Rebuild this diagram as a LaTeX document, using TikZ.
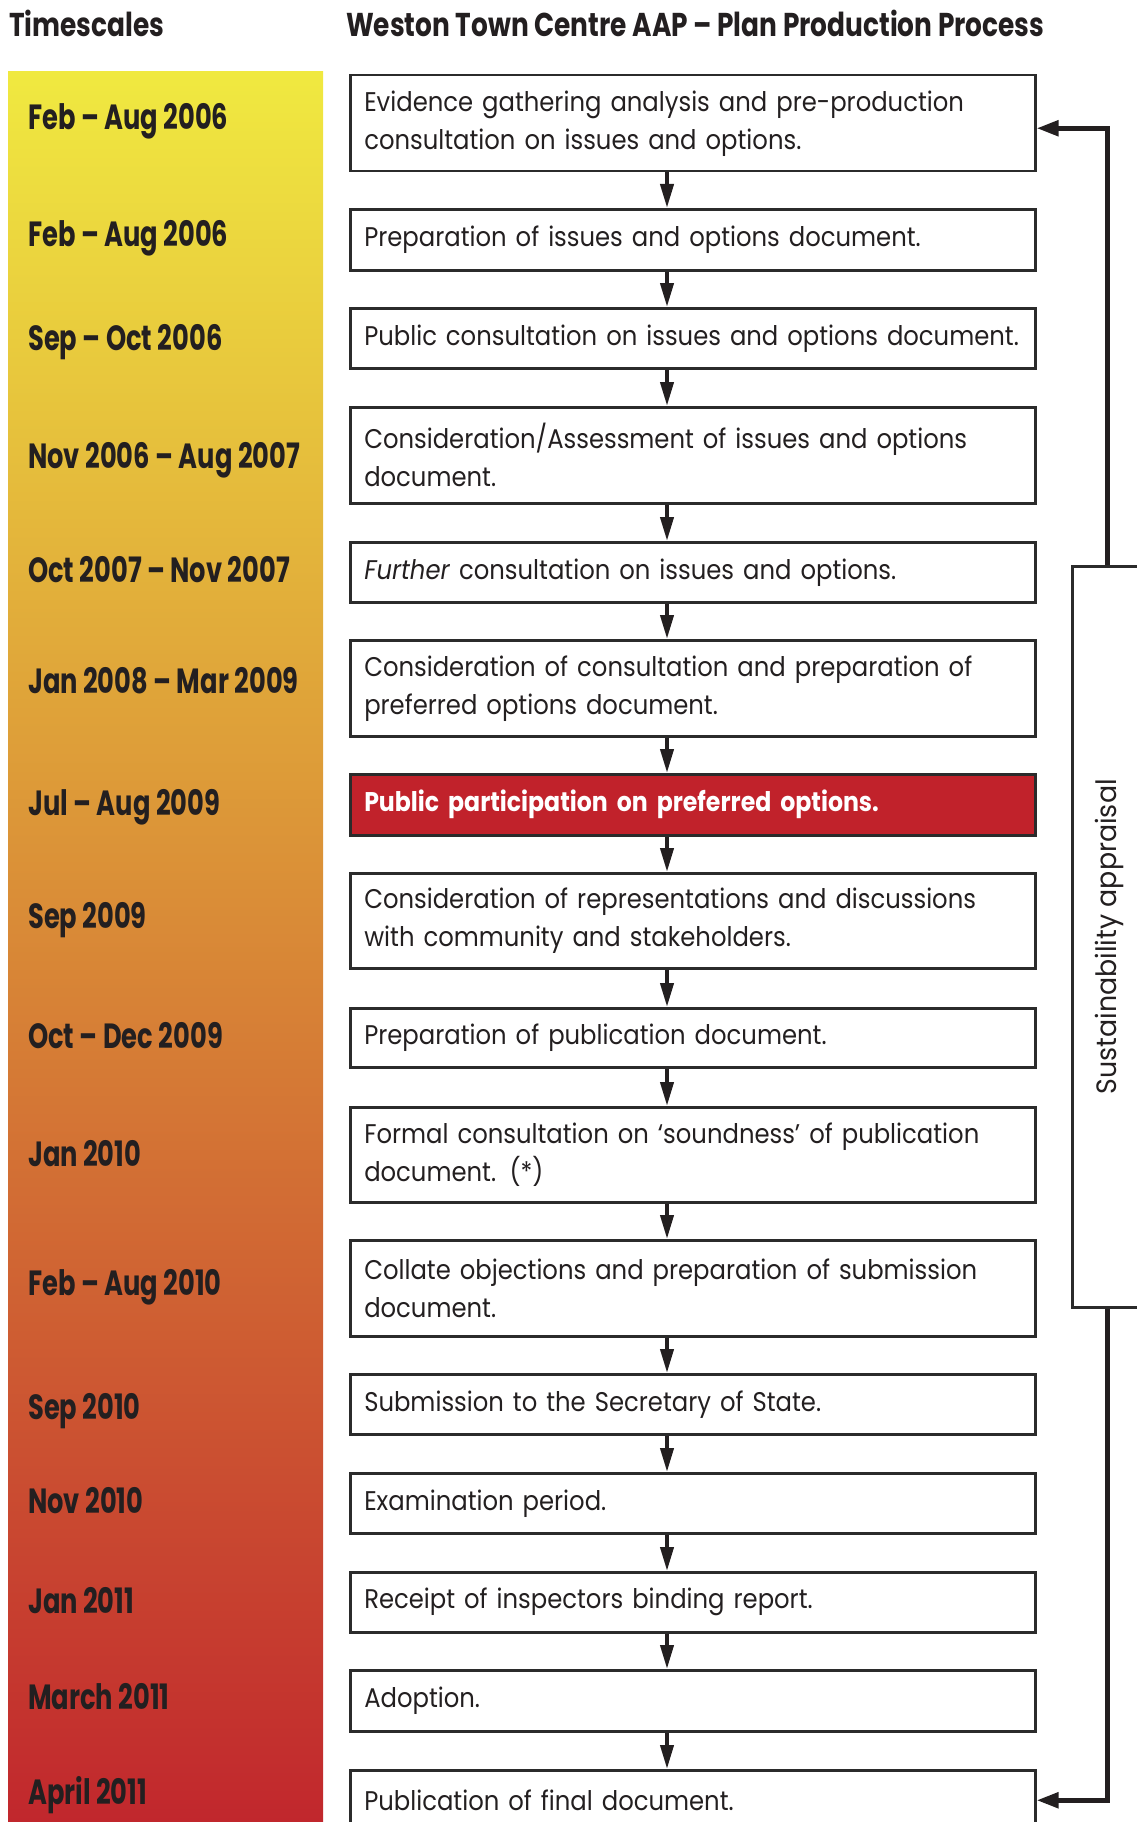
\documentclass[tikz,border=0pt]{standalone}
\usepackage{fontspec}
\setmainfont{Poppins}
\newfontfamily\bodyf[FakeStretch=0.9]{Poppins}
\newfontfamily\condf[FakeStretch=0.735]{Poppins}
\newfontfamily\headf[FakeStretch=0.8]{Poppins}
\newfontfamily\redf[FakeStretch=0.875]{Poppins}
\newfontfamily\sidef[FakeStretch=0.96]{Poppins}
\usetikzlibrary{arrows.meta}
\definecolor{ink}{RGB}{35,31,32}
\definecolor{edge}{RGB}{43,43,43}
\definecolor{barTop}{RGB}{240,233,64}
\definecolor{barMid}{RGB}{218,130,55}
\definecolor{barBot}{RGB}{193,39,45}
\definecolor{redbox}{RGB}{193,34,43}
\tikzset{
  box/.style={draw=edge, line width=2.5pt, fill=white, anchor=north west,
    minimum width=685pt, text width=657pt, inner xsep=14pt, inner ysep=0pt,
    align=left, font=\bodyf\fontsize{27}{38}\selectfont, text=ink},
  hotbox/.style={box, fill=redbox, text=white,
    font=\redf\bfseries\fontsize{27}{38}\selectfont},
  datelbl/.style={anchor=west, inner sep=0pt, text height=25pt, text depth=0pt,
    font=\condf\bfseries\fontsize{35}{40}\selectfont, text=ink},
  headlbl/.style={anchor=west, inner sep=0pt, text height=23pt, text depth=0pt,
    font=\headf\bfseries\fontsize{33}{40}\selectfont, text=ink},
  flow/.style={draw=ink, line width=4pt, -{Triangle[length=24pt,width=13pt]}},
  feedback/.style={draw=ink, line width=5pt, -{Triangle[length=22pt,width=15pt]}}
}
\begin{document}
\begin{tikzpicture}[x=1pt,y=-1pt]
\useasboundingbox (0,0) rectangle (1137,1822);
\clip (0,0) rectangle (1137,1822);
\shade[top color=barTop, middle color=barMid, bottom color=barBot] (8,72) rectangle (323,1822);

\node[headlbl] (hTime) at (9,25) {Timescales};
\node[headlbl] (hTitle) at (346,25) {Weston Town Centre AAP – Plan Production Process};

\node[datelbl] (d1) at (28,117) {Feb – Aug 2006};
\node[datelbl] (d2) at (28,234) {Feb – Aug 2006};
\node[datelbl] (d3) at (28,338) {Sep – Oct 2006};
\node[datelbl] (d4) at (28,456) {Nov 2006 – Aug 2007};
\node[datelbl] (d5) at (28,570) {Oct 2007 – Nov 2007};
\node[datelbl] (d6) at (28,681) {Jan 2008 – Mar 2009};
\node[datelbl] (d7) at (28,803) {Jul – Aug 2009};
\node[datelbl] (d8) at (28,916) {Sep 2009};
\node[datelbl] (d9) at (28,1036) {Oct – Dec 2009};
\node[datelbl] (d10) at (28,1154) {Jan 2010};
\node[datelbl] (d11) at (28,1283) {Feb – Aug 2010};
\node[datelbl] (d12) at (28,1407) {Sep 2010};
\node[datelbl] (d13) at (28,1501) {Nov 2010};
\node[datelbl] (d14) at (28,1601) {Jan 2011};
\node[datelbl] (d15) at (28,1697) {March 2011};
\node[datelbl] (d16) at (28,1792) {April 2011};

\node[box, minimum height=96pt] (b1) at (349,74) {Evidence gathering analysis and pre-production\\consultation on issues and options.};
\node[box, minimum height=61pt] (b2) at (349,208) {Preparation of issues and options document.};
\node[box, minimum height=60pt] (b3) at (349,307) {Public consultation on issues and options document.};
\node[box, minimum height=96pt] (b4) at (349,406) {Consideration/Assessment of issues and options\\document.};
\node[box, minimum height=60pt] (b5) at (349,541) {\textit{Further} consultation on issues and options.};
\node[box, minimum height=96pt] (b6) at (349,639) {Consideration of consultation and preparation of\\preferred options document.};
\node[hotbox, minimum height=61pt] (b7) at (349,773) {Public participation on preferred options.};
\node[box, minimum height=95pt] (b8) at (349,872) {Consideration of representations and discussions\\with community and stakeholders.};
\node[box, minimum height=59pt] (b9) at (349,1007) {Preparation of publication document.};
\node[box, minimum height=95pt] (b10) at (349,1106) {Formal consultation on ‘soundness’ of publication\\document. (*)};
\node[box, minimum height=96pt] (b11) at (349,1239) {Collate objections and preparation of submission\\document.};
\node[box, minimum height=60pt] (b12) at (349,1373) {Submission to the Secretary of State.};
\node[box, minimum height=60pt] (b13) at (349,1472) {Examination period.};
\node[box, minimum height=60pt] (b14) at (349,1571) {Receipt of inspectors binding report.};
\node[box, minimum height=61pt] (b15) at (349,1669) {Adoption.};
\node[box, minimum height=60pt] (b16) at (349,1769) {Publication of final document.};

\coordinate (ax) at (667,0);
\foreach \a/\b in {b1/b2,b2/b3,b3/b4,b4/b5,b5/b6,b6/b7,b7/b8,b8/b9,b9/b10,b10/b11,b11/b12,b12/b13,b13/b14,b14/b15,b15/b16}
  \draw[flow] (\a.south -| ax) -- (\b.north -| ax);

\node[draw=edge, line width=2.5pt, fill=white, anchor=north west, inner sep=0pt,
  minimum width=74pt, minimum height=741pt, text=ink,
  font=\sidef\fontsize{28}{32}\selectfont] (sa) at (1071,565) {\rotatebox{90}{Sustainability appraisal}};

\coordinate (lx) at (1107,0);
\draw[feedback] (sa.north -| lx) |- ([yshift=-5pt]b1.east);
\draw[feedback] (sa.south -| lx) |- (b16.east);
\end{tikzpicture}
\end{document}
